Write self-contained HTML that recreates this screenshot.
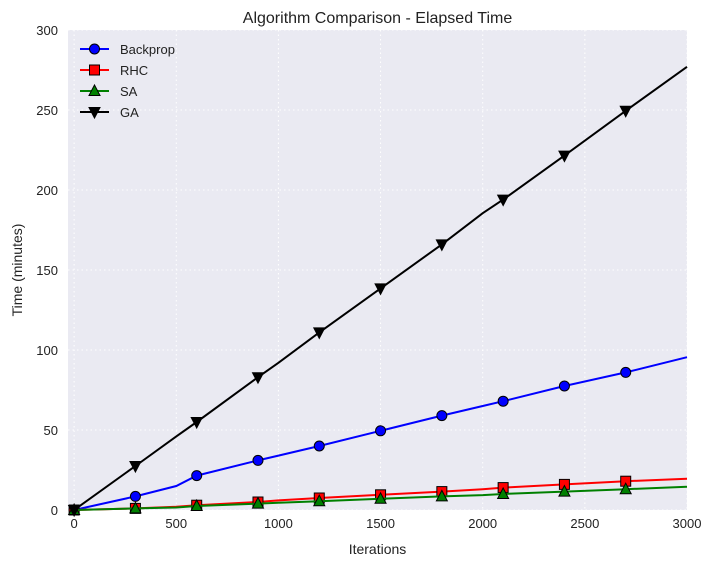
<!DOCTYPE html>
<html><head><meta charset="utf-8"><style>
body{margin:0;background:#fff;font-family:"Liberation Sans",sans-serif}
</style></head><body>
<svg id="c" width="715" height="566" xmlns="http://www.w3.org/2000/svg" font-family="Liberation Sans, sans-serif"></svg>
<script>
const iterations=[0,300,500,600,900,1000,1200,1500,1800,2000,2100,2400,2700,3000];
const backprop=[0,8.5,15,21.5,31,34,40,49.5,59,65,68,77.5,86,95.5];
const rhc=[0,1,2,3,5,6,7.5,9.5,11.5,13,14,16,18,19.5];
const sa=[0,1,1.6,2.5,4,4.5,5.5,7,8.5,9.3,10,11.5,13,14.5];
const ga=[0,27.5,46,55,83,92,111,138.5,166,185.5,194,221.5,249.5,277];
const xTicks=[0,500,1000,1500,2000,2500,3000];
const yTicks=[0,50,100,150,200,250,300];
const L=68,R=687,T=30,B=510,X0=-30,X1=3000,Y1=300;
const sx=v=>L+(v-X0)/(X1-X0)*(R-L);
const sy=v=>B-v/Y1*(B-T);
const svg=document.getElementById('c');const NS='http://www.w3.org/2000/svg';
function mk(t,a,p){const e=document.createElementNS(NS,t);for(const k in a)e.setAttribute(k,a[k]);(p||svg).appendChild(e);return e;}
let bg=mk('rect',{x:L,y:T,width:R-L,height:B-T,fill:'#eaeaf2'});


xTicks.forEach(v=>{
 let g=mk('line',{x1:sx(v),x2:sx(v),y1:T,y2:B,stroke:'#fff','stroke-dasharray':'1.5,3'});
 
 
 let t=mk('text',{x:sx(v),y:B+18,'text-anchor':'middle','font-size':13,fill:'#222'});t.textContent=v;
 
 
});
yTicks.forEach(v=>{
 let g=mk('line',{x1:L,x2:R,y1:sy(v),y2:sy(v),stroke:'#fff','stroke-dasharray':'1.5,3'});
 
 
 let t=mk('text',{x:L-10,y:sy(v)+5,'text-anchor':'end','font-size':13,fill:'#222'});t.textContent=v;
 
 
});
function marker(type,x,y,col,p){
 let e;
 if(type==='o')e=mk('circle',{cx:x,cy:y,r:5,fill:col,stroke:'#000','stroke-width':1},p);
 else if(type==='s')e=mk('rect',{x:x-5,y:y-5,width:10,height:10,fill:col,stroke:'#000','stroke-width':1},p);
 else if(type==='^')e=mk('polygon',{points:`${x},${y-6} ${x+5.5},${y+4.5} ${x-5.5},${y+4.5}`,fill:col,stroke:'#000','stroke-width':1},p);
 else e=mk('polygon',{points:`${x},${y+6} ${x+5.5},${y-4.5} ${x-5.5},${y-4.5}`,fill:col,stroke:'#000','stroke-width':1},p);
 return e;
}
const series=[['Backprop',backprop,'#0000ff','o'],['RHC',rhc,'#ff0000','s'],['SA',sa,'#008000','^'],['GA',ga,'#000000','v']];
series.forEach(([name,vals,col,m])=>{
 const g=mk('g',{});
 
 
 mk('polyline',{points:iterations.map((x,i)=>sx(x)+','+sy(vals[i])).join(' '),fill:'none',stroke:col,'stroke-width':2},g);
 iterations.forEach((x,i)=>{if(x%300===0&&x<3000){const mm=marker(m,sx(x),sy(vals[i]),col,g);
  
  }});
});
series.forEach(([name,vals,col,m],i)=>{
 const y=49+i*21;
 const g=mk('g',{});
 
 
 mk('line',{x1:80,x2:109,y1:y,y2:y,stroke:col,'stroke-width':2},g);
 marker(m,94.5,y,col,g);
 const t=mk('text',{x:120,y:y+5,'font-size':13,fill:'#222'},g);t.textContent=name;
});
let tt=mk('text',{x:(L+R)/2,y:23,'text-anchor':'middle','font-size':16,fill:'#222'});tt.textContent='Algorithm Comparison - Elapsed Time';


let xl=mk('text',{x:(L+R)/2,y:554,'text-anchor':'middle','font-size':14,fill:'#222'});xl.textContent='Iterations';


let yl=mk('text',{x:0,y:0,'text-anchor':'middle','font-size':14,fill:'#222',transform:`translate(22,${(T+B)/2}) rotate(-90)`});yl.textContent='Time (minutes)';


</script>
</body></html>
